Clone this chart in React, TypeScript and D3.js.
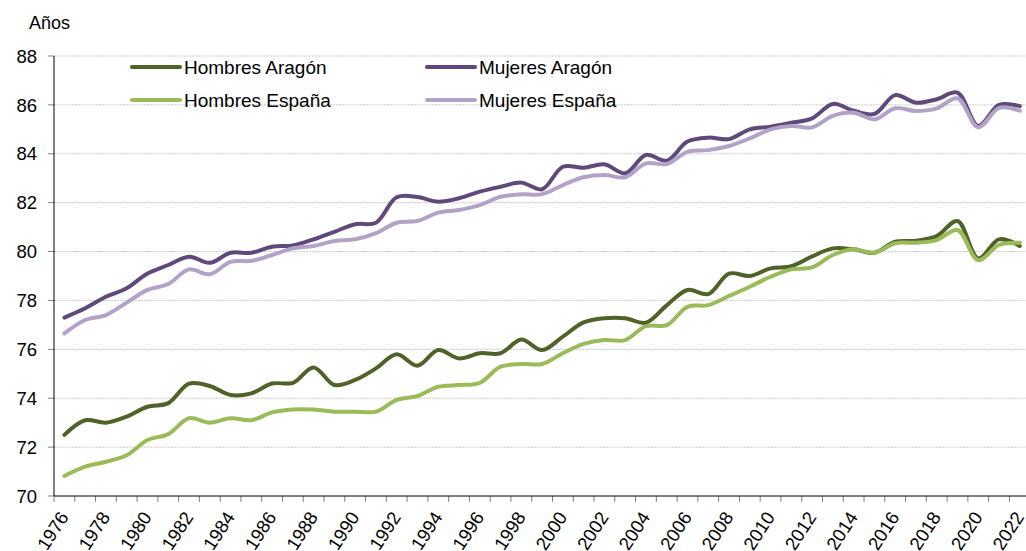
import React from "react";
import * as d3 from "d3";

const years = d3.range(1976, 2023);

const hombresAragon = [
  72.5, 73.1, 73.0, 73.25, 73.65, 73.8, 74.6, 74.5, 74.13, 74.2, 74.6, 74.63, 75.26, 74.54, 74.75,
  75.22, 75.8, 75.33, 75.97, 75.63, 75.84, 75.84, 76.4, 75.97, 76.52, 77.1, 77.27, 77.27, 77.09,
  77.8, 78.43, 78.26, 79.1, 79.0, 79.31, 79.4, 79.8, 80.13, 80.09, 79.95, 80.4, 80.44, 80.63,
  81.25, 79.72, 80.5, 80.23,
];
const hombresEspana = [
  70.82, 71.2, 71.4, 71.67, 72.29, 72.53, 73.18, 73.0, 73.18, 73.1, 73.42, 73.54, 73.54, 73.45,
  73.45, 73.45, 73.93, 74.09, 74.47, 74.54, 74.63, 75.29, 75.4, 75.4, 75.84, 76.22, 76.38, 76.38,
  76.95, 76.99, 77.74, 77.81, 78.18, 78.56, 78.97, 79.27, 79.35, 79.86, 80.09, 79.95, 80.34,
  80.36, 80.47, 80.88, 79.65, 80.27, 80.36,
];
const mujeresAragon = [
  77.3, 77.68, 78.15, 78.5, 79.1, 79.45, 79.79, 79.54, 79.95, 79.95, 80.2, 80.25, 80.5, 80.81,
  81.12, 81.18, 82.22, 82.23, 82.04, 82.18, 82.45, 82.65, 82.82, 82.55, 83.47, 83.43, 83.57, 83.2,
  83.95, 83.72, 84.5, 84.66, 84.6, 85.0, 85.11, 85.27, 85.45, 86.04, 85.76, 85.63, 86.4, 86.09,
  86.23, 86.5, 85.14, 86.0, 85.95,
];
const mujeresEspana = [
  76.65, 77.2, 77.4, 77.91, 78.43, 78.67, 79.27, 79.07, 79.58, 79.62, 79.86, 80.13, 80.23, 80.43,
  80.5, 80.75, 81.18, 81.25, 81.59, 81.7, 81.9, 82.24, 82.34, 82.35, 82.72, 83.04, 83.13, 83.04,
  83.61, 83.58, 84.08, 84.15, 84.32, 84.63, 85.0, 85.14, 85.08, 85.55, 85.68, 85.41, 85.86, 85.75,
  85.86, 86.27, 85.08, 85.88, 85.76,
];

const yTicks = [70, 72, 74, 76, 78, 80, 82, 84, 86, 88];

const series = [
  { name: "Hombres Aragón", values: hombresAragon, color: "#4f6228" },
  { name: "Mujeres Aragón", values: mujeresAragon, color: "#5f497a" },
  { name: "Hombres España", values: hombresEspana, color: "#9bbb59" },
  { name: "Mujeres España", values: mujeresEspana, color: "#b3a2c7" },
];

const W = 1026;
const H = 551;
const left = 54;
const top = 56;
const bottom = 496;
const font = "'Liberation Sans', Arial, sans-serif";

export default function App() {
  const x = d3
    .scaleBand<number>()
    .domain(years)
    .range([left, left + years.length * 20.77]);
  const y = d3.scaleLinear().domain([70, 88]).range([bottom, top]);

  const line = d3
    .line<number>()
    .x((_, i) => (x(years[i]) as number) + x.bandwidth() / 2)
    .y((d) => y(d))
    .curve(d3.curveCatmullRom.alpha(0.5));

  const legend = [
    { s: series[0], lx: 132, ly: 67 },
    { s: series[1], lx: 427, ly: 67 },
    { s: series[2], lx: 132, ly: 100 },
    { s: series[3], lx: 427, ly: 100 },
  ];

  return (
    <svg
      width={W}
      height={H}
      style={{ position: "absolute", left: 0, top: 0, background: "#fff" }}
      fontFamily={font}
    >
      <text x={29} y={29} fontSize={18}>
        Años
      </text>

      {/* grid + y labels */}
      {yTicks.map((t) => (
        <g key={t}>
          {t > 70 && (
            <line
              x1={left}
              x2={W}
              y1={y(t)}
              y2={y(t)}
              stroke="#c8c8c8"
              strokeWidth={1}
              strokeDasharray="2,1"
            />
          )}
          <line x1={left - 6} x2={left} y1={y(t)} y2={y(t)} stroke="#808080" />
          <text x={37} y={y(t)} dy="0.36em" textAnchor="end" fontSize={18.5} fill="#000">
            {t}
          </text>
        </g>
      ))}

      {/* x ticks */}
      {years.map((yr) => (
        <line
          key={yr}
          x1={x(yr)}
          x2={x(yr)}
          y1={bottom}
          y2={bottom + 6}
          stroke="#808080"
        />
      ))}
      {years
        .filter((yr) => yr % 2 === 0)
        .map((yr) => {
          const cx = (x(yr) as number) + x.bandwidth() / 2 + 5;
          const cy = 517;
          return (
            <text
              key={yr}
              x={cx}
              y={cy}
              transform={`rotate(-57,${cx},${cy})`}
              textAnchor="end"
              fontSize={18.5}
            >
              {yr}
            </text>
          );
        })}

      <line x1={left} x2={left} y1={top} y2={bottom} stroke="#000" />
      <line x1={left} x2={W} y1={bottom} y2={bottom} stroke="#000" />

      {series.map((s) => (
        <path
          key={s.name}
          d={line(s.values) || ""}
          fill="none"
          stroke={s.color}
          strokeWidth={4}
          strokeLinecap="round"
          strokeLinejoin="round"
        />
      ))}

      {legend.map(({ s, lx, ly }) => (
        <g key={s.name}>
          <line
            x1={lx}
            x2={lx + 48}
            y1={ly}
            y2={ly}
            stroke={s.color}
            strokeWidth={4}
            strokeLinecap="round"
          />
          <text x={lx + 52} y={ly} dy="0.36em" fontSize={19}>
            {s.name}
          </text>
        </g>
      ))}
    </svg>
  );
}
